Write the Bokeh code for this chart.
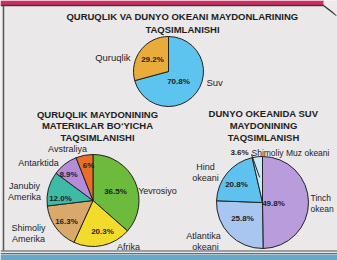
import math
from bokeh.plotting import figure
from bokeh.models import ColumnDataSource
from bokeh.core.properties import value
from bokeh.embed import file_html
from bokeh.resources import INLINE

# ---- data ----
land_water_labels = ["Suv", "Quruqlik"]
land_water_values = [70.8, 29.2]
land_water_colors = ["#5CC4EE", "#E9AC3A"]

continent_labels = ["Yevrosiyo", "Afrika", "Shimoliy Amerika", "Janubiy Amerika", "Antarktida", "Avstraliya"]
continent_values = [36.5, 20.3, 16.3, 12.0, 8.9, 6.0]
continent_pct_text = ["36.5%", "20.3%", "16.3%", "12.0%", "8.9%", "6%"]
continent_colors = ["#6DBB3C", "#F3DB2C", "#D9A96C", "#3EBBA6", "#B38CDA", "#EA6E2A"]

ocean_labels = ["Tinch okean", "Atlantika okeani", "Hind okeani", "Shimoliy Muz okeani"]
ocean_values = [49.8, 25.8, 20.8, 3.6]
ocean_colors = ["#B99CDC", "#A9C6F0", "#5FC2EE", "#CDEAF6"]

BG = "#EBE8EA"
INK = "#1E1E1E"
FONT = value("Liberation Sans")

W, H = 337, 260
p = figure(width=W, height=H, x_range=(0, W), y_range=(-H, 0),
           output_backend="svg", toolbar_location=None, min_border=0,
           background_fill_color=BG, border_fill_color=BG)
p.axis.visible = False
p.grid.visible = False
p.outline_line_color = None


def pie(cx, cy, r, vals, colors):
    total = sum(vals)
    cum = 0.0
    starts, ends = [], []
    for v in vals:
        a0 = math.pi / 2 - 2 * math.pi * cum / total
        cum += v
        a1 = math.pi / 2 - 2 * math.pi * cum / total
        starts.append(a1)
        ends.append(a0)
    src = ColumnDataSource(dict(x=[cx] * len(vals), y=[cy] * len(vals),
                                s=starts, e=ends, c=colors))
    p.wedge(x="x", y="y", radius=r, start_angle="s", end_angle="e",
            fill_color="c", line_color="#222222", line_width=1, source=src)
    return [(s + e) / 2 for s, e in zip(starts, ends)]


def txt(x, y, t, size="9px", bold=False, align="center", color=INK):
    p.text(x=[x], y=[-y], text=[t], text_font=FONT, text_font_size=size,
           text_font_style="bold" if bold else "normal", text_align=align,
           text_baseline="middle", text_color=color)


# page frame details (printed page edges)
p.quad(left=[0], right=[323], top=[0], bottom=[-4.5], fill_color="#D22A62", line_color=None)
p.line(x=[0, 323, 336], y=[-5, -5, -15], line_color="#3A3A3A", line_width=1.5)
p.patch(x=[323, 337, 337, 336], y=[0, 0, -14, -15], fill_color="#ECEAEC", line_color=None)
p.line(x=[3, 3], y=[-5, -250], line_color="#555555", line_width=1.5)
p.line(x=[0, 337], y=[-250.5, -250.5], line_color="#555555", line_width=1.2)
p.line(x=[0, 337], y=[-253, -253], line_color="#6A6A6A", line_width=1)
p.quad(left=[0], right=[337], top=[-254], bottom=[-260], fill_color="#6AA7C4", line_color=None)

# ---- top pie ----
pie(168, -71, 35, land_water_values, land_water_colors)
txt(182, 16, "QURUQLIK VA DUNYO OKEANI MAYDONLARINING", "9.5px", True)
txt(182, 29, "TAQSIMLANISHI", "9.5px", True)
txt(130, 57, "Quruqlik", "9.5px", align="right")
txt(152, 59, "29.2%", "8px", True)
txt(178, 81, "70.8%", "8px", True)
txt(206, 82, "Suv", "9.5px", align="left")

# ---- bottom-left pie ----
pie(92.5, -200, 46, continent_values, continent_colors)
txt(97, 114, "QURUQLIK MAYDONINING", "9.5px", True)
txt(97, 125, "MATERIKLAR BO\u2018YICHA", "9.5px", True)
txt(97, 137, "TAQSIMLANISHI", "9.5px", True)
pct_pos = [(115, 191), (102, 231), (66, 221), (60, 198), (68, 174), (88, 165)]
for (x, y), t in zip(pct_pos, continent_pct_text):
    txt(x, y, t, "8px", True)
txt(157, 190, "Yevrosiyo", "9px")
txt(128, 246, "Afrika", "9px")
txt(28, 227, "Shimoliy", "9px")
txt(28, 238, "Amerika", "9px")
txt(24, 185, "Janubiy", "9px")
txt(24, 196, "Amerika", "9px")
txt(38, 162, "Antarktida", "9px")
txt(67, 148, "Avstraliya", "9px")

# ---- bottom-right pie ----
ocx, ocy, orr = 262, -202, 46
mids = pie(ocx, ocy, orr, ocean_values, ocean_colors)
txt(263, 113, "DUNYO OKEANIDA SUV", "9.5px", True)
txt(263, 125, "MAYDONINING", "9.5px", True)
txt(263, 137, "TAQSIMLANISH", "9.5px", True)
m = mids[3]
p.line(x=[251, ocx + 0.55 * orr * math.cos(m)], y=[-154, ocy + 0.55 * orr * math.sin(m)],
       line_color="#222222", line_width=1)
txt(239, 152, "3.6%", "8px", True)
txt(251, 152, "Shimoliy Muz okeani", "8.5px", align="left")
txt(273, 203, "49.8%", "8px", True)
txt(242, 218, "25.8%", "8px", True)
txt(236, 184, "20.8%", "8px", True)
txt(205, 166, "Hind", "9px")
txt(205, 177, "okeani", "9px")
txt(203, 235, "Atlantika", "9px")
txt(205, 246, "okeani", "9px")
txt(310, 197, "Tinch", "8.5px", align="left")
txt(310, 208, "okean", "8.5px", align="left")

open("out.html", "w").write(file_html(p, INLINE))
